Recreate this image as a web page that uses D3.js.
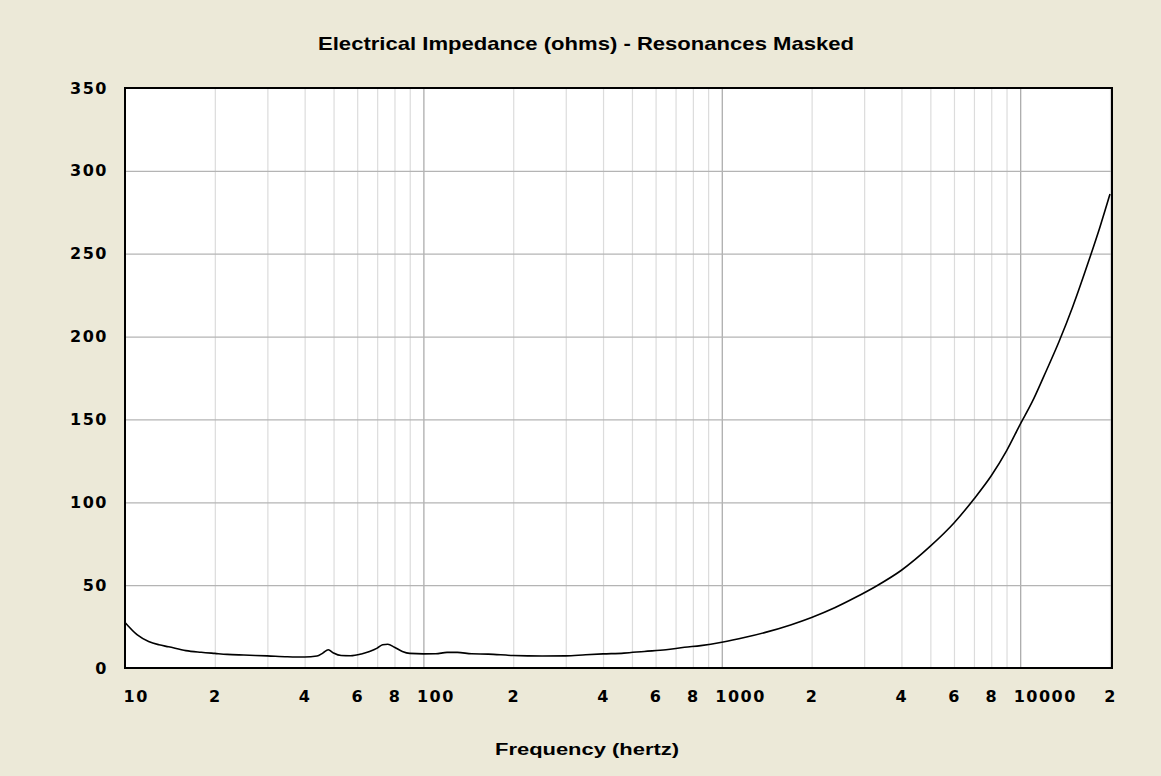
<!DOCTYPE html>
<html>
<head>
<meta charset="utf-8">
<script src="https://cdn.jsdelivr.net/npm/d3@7/dist/d3.min.js"></script>
<style>
  html, body { margin: 0; padding: 0; background: #ECE9D8; }
  svg { display: block; }
</style>
</head>
<body>
<svg id="chart" width="1161" height="776"></svg>
<script>
// ---- data ----
const titleText = "Electrical Impedance (ohms) - Resonances Masked";
const xTitleText = "Frequency (hertz)";

const frequencies = [10, 11, 12, 13, 14, 16, 18, 20, 22, 25, 30, 35, 40, 44, 46, 48, 50, 53, 57, 62, 66, 70, 73, 76, 80, 85, 90, 100, 110, 120, 130, 145, 165, 200, 250, 300, 350, 400, 470, 550, 650, 750, 850, 1000, 1200, 1400, 1700, 2000, 2400, 2800, 3300, 4000, 5000, 6000, 7000, 8000, 9000, 10000, 11000, 12000, 13500, 15000, 17000, 18500, 20000];
const impedance = [27.5, 20, 16, 14, 12.8, 10.5, 9.5, 8.8, 8.2, 7.8, 7.3, 6.8, 6.6, 7.2, 9, 11, 9, 7.5, 7.4, 8.5, 10, 12, 14, 14.3, 12.5, 10, 8.8, 8.5, 8.6, 9.4, 9.4, 8.6, 8.4, 7.5, 7.2, 7.3, 8, 8.5, 9, 10, 11, 12.5, 13.5, 15.5, 18.5, 21.5, 26, 30.5, 36.5, 42.5, 49.5, 59, 73.5, 87.5, 102, 116, 131, 147, 161, 176, 197, 218, 246, 266, 286];

const yTickValues = [0, 50, 100, 150, 200, 250, 300, 350];
const xTickValues = [10, 20, 40, 60, 80, 100, 200, 400, 600, 800, 1000, 2000, 4000, 6000, 8000, 10000, 20000];
const xTickLabels = ["10", "2", "4", "6", "8", "100", "2", "4", "6", "8", "1000", "2", "4", "6", "8", "10000", "2"];
const xDecades = [10, 100, 1000, 10000];

// ---- layout ----
const plot = { left: 125, right: 1112, top: 88, bottom: 668 };
const svg = d3.select("#chart");

const x = d3.scaleLog().domain([10, 20000]).range([plot.left, 1110]);
const y = d3.scaleLinear().domain([0, 350]).range([plot.bottom, plot.top]);

// background
svg.append("rect").attr("width", 1161).attr("height", 776).attr("fill", "#ECE9D8");
svg.append("rect")
  .attr("x", plot.left).attr("y", plot.top)
  .attr("width", plot.right - plot.left).attr("height", plot.bottom - plot.top)
  .attr("fill", "#FFFFFF");

// minor vertical grid
const minorTicks = [];
for (const d of [10, 100, 1000, 10000]) {
  for (let k = 1; k <= 9; k++) {
    const v = d * k;
    if (v <= 20000) minorTicks.push(v);
  }
}
const gridMinor = svg.append("g")
  .attr("transform", `translate(0,${plot.top})`)
  .call(d3.axisBottom(x).tickValues(minorTicks.filter(v => !xDecades.includes(v)))
        .tickSize(plot.bottom - plot.top).tickFormat(""));
gridMinor.select(".domain").remove();
gridMinor.selectAll("line").attr("stroke", "#DCDCDC").attr("stroke-width", 1.2);

const gridMajor = svg.append("g")
  .attr("transform", `translate(0,${plot.top})`)
  .call(d3.axisBottom(x).tickValues(xDecades.filter(v => v > 10))
        .tickSize(plot.bottom - plot.top).tickFormat(""));
gridMajor.select(".domain").remove();
gridMajor.selectAll("line").attr("stroke", "#ADADAD").attr("stroke-width", 1.3);

// horizontal grid
const gridY = svg.append("g")
  .attr("transform", `translate(${plot.left},0)`)
  .call(d3.axisRight(y).tickValues(yTickValues.filter(v => v > 0 && v < 350))
        .tickSize(plot.right - plot.left).tickFormat(""));
gridY.select(".domain").remove();
gridY.selectAll("line").attr("stroke", "#B4B4B4").attr("stroke-width", 1.3);

// curve
const line = d3.line()
  .x((d, i) => x(frequencies[i]))
  .y((d, i) => y(impedance[i]))
  .curve(d3.curveMonotoneX);
svg.append("path")
  .datum(impedance)
  .attr("d", line)
  .attr("fill", "none")
  .attr("stroke", "#000")
  .attr("stroke-width", 1.6);

// border
svg.append("rect")
  .attr("x", plot.left).attr("y", plot.top)
  .attr("width", plot.right - plot.left).attr("height", plot.bottom - plot.top)
  .attr("fill", "none").attr("stroke", "#000").attr("stroke-width", 2);

// y axis labels
const yAxis = svg.append("g")
  .attr("transform", `translate(${plot.left},0)`)
  .call(d3.axisLeft(y).tickValues(yTickValues).tickSize(0).tickPadding(17)
        .tickFormat(d3.format("d")));
yAxis.select(".domain").remove();
yAxis.selectAll("text")
  .attr("font-family", "'DejaVu Sans', sans-serif")
  .attr("font-weight", "bold")
  .attr("font-size", 16)
  .attr("letter-spacing", 1.5)
  .attr("fill", "#000");

// x axis labels
const xAxis = svg.append("g")
  .attr("transform", `translate(0,${plot.bottom})`)
  .call(d3.axisBottom(x).tickValues(xTickValues).tickSize(0)
        .tickFormat((d, i) => xTickLabels[i]));
xAxis.select(".domain").remove();
xAxis.selectAll("text")
  .attr("font-family", "'DejaVu Sans', sans-serif")
  .attr("font-weight", "bold")
  .attr("font-size", 16)
  .attr("letter-spacing", 1.5)
  .attr("fill", "#000")
  .attr("y", 34)
  .attr("dy", 0)
  .attr("text-anchor", (d, i) => xTickLabels[i].length > 1 ? "start" : "middle")
  .attr("x", (d, i) => xTickLabels[i].length > 1 ? (d === 10 ? -2 : -7) : 0);

// titles
svg.append("text")
  .attr("x", 586).attr("y", 50)
  .attr("text-anchor", "middle")
  .attr("font-family", "'Liberation Sans', Arial, sans-serif")
  .attr("font-weight", "bold")
  .attr("font-size", 19)
  .attr("textLength", 536)
  .attr("lengthAdjust", "spacingAndGlyphs")
  .text(titleText);

svg.append("text")
  .attr("x", 587).attr("y", 755)
  .attr("text-anchor", "middle")
  .attr("font-family", "'Liberation Sans', Arial, sans-serif")
  .attr("font-weight", "bold")
  .attr("font-size", 16)
  .attr("textLength", 184)
  .attr("lengthAdjust", "spacingAndGlyphs")
  .text(xTitleText);
</script>
</body>
</html>
